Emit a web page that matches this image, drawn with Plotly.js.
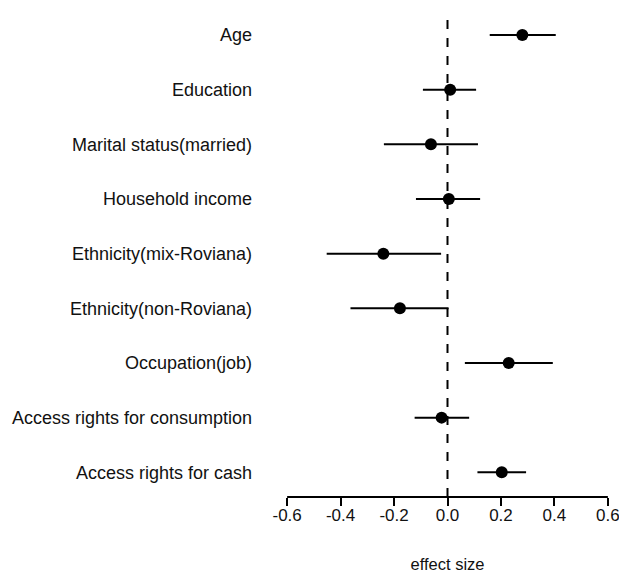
<!DOCTYPE html>
<html>
<head>
<meta charset="utf-8">
<script src="https://cdn.plot.ly/plotly-3.0.1.min.js"></script>
<style>html,body{margin:0;padding:0;background:#fff;}#chart{width:619px;height:573px;overflow:hidden;}</style>
</head>
<body>
<div id="chart"></div>
<script>
var categories = ["Age","Education","Marital status(married)","Household income","Ethnicity(mix-Roviana)","Ethnicity(non-Roviana)","Occupation(job)","Access rights for consumption","Access rights for cash"];
var effect = [0.280, 0.010, -0.062, 0.005, -0.240, -0.178, 0.229, -0.022, 0.203];
var lower  = [0.158, -0.092, -0.238, -0.118, -0.452, -0.363, 0.065, -0.123, 0.112];
var upper  = [0.405, 0.107, 0.114, 0.122, -0.024, 0.004, 0.394, 0.081, 0.294];
var xTicks = [-0.6, -0.4, -0.2, 0.0, 0.2, 0.4, 0.6];
var xTickText = ["-0.6","-0.4","-0.2","0.0","0.2","0.4","0.6"];

var n = categories.length;
var ypos = categories.map(function(c,i){ return n - i; });
var plus = effect.map(function(v,i){ return upper[i]-v; });
var minus = effect.map(function(v,i){ return v-lower[i]; });

var family = "Liberation Sans, Arial, sans-serif";
var labelFont = {family: family, size: 18, color: "#111"};
var tickFont = {family: family, size: 17, color: "#111"};

var trace = {
  type: "scatter", mode: "markers",
  x: effect, y: ypos,
  marker: {color: "#000", size: 12, symbol: "circle"},
  error_x: {type: "data", symmetric: false, array: plus, arrayminus: minus, width: 0, thickness: 2, color: "#000"},
  hoverinfo: "skip", cliponaxis: false
};

var layout = {
  width: 619, height: 573,
  margin: {l: 287, r: 11, t: 11, b: 76},
  paper_bgcolor: "#fff", plot_bgcolor: "#fff",
  showlegend: false,
  font: labelFont,
  xaxis: {
    range: [-0.6005, 0.6005], tickvals: xTicks, ticktext: xTickText,
    showgrid: false, zeroline: false,
    showline: false,
    ticks: "outside", ticklen: 8, tickwidth: 2, tickcolor: "#000",
    ticklabelstandoff: -5,
    ticklabeloverflow: "allow",
    tickfont: tickFont,
    title: {text: "effect size", font: {family: family, size: 16.5, color: "#111"}, standoff: 35}
  },
  yaxis: {
    range: [0.548, 9.439], tickvals: ypos, ticktext: categories,
    showgrid: false, zeroline: false, showline: false, ticks: "",
    ticklabelstandoff: 34,
    tickfont: labelFont
  },
  shapes: [
    {type: "line", xref: "x", yref: "paper", x0: 0, x1: 0, y0: 0, y1: 1,
     line: {color: "#000", width: 2, dash: "dash"}, layer: "below"},
    {type: "line", xref: "x", yref: "paper", x0: xTicks[0], x1: xTicks[xTicks.length-1], y0: 0, y1: 0,
     line: {color: "#000", width: 2}, layer: "above"}
  ]
};

Plotly.newPlot("chart", [trace], layout, {staticPlot: true, displayModeBar: false});
</script>
</body>
</html>
